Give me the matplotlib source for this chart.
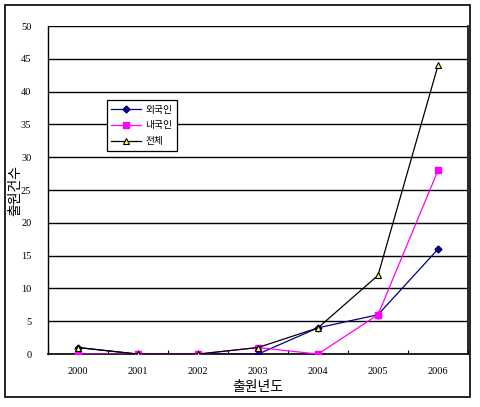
import matplotlib
matplotlib.use("Agg")
import matplotlib.pyplot as plt
import matplotlib.patches as mpatches
import numpy as np

# 데이터
years = ["2000", "2001", "2002", "2003", "2004", "2005", "2006"]
foreign = [1, 0, 0, 0, 4, 6, 16]     # 외국인
domestic = [0, 0, 0, 1, 0, 6, 28]    # 내국인
total = [1, 0, 0, 1, 4, 12, 44]      # 전체
y_ticks = [0, 5, 10, 15, 20, 25, 30, 35, 40, 45, 50]

KR = ["Noto Sans CJK KR", "DejaVu Sans"]
NUM = "Liberation Serif"

fig = plt.figure(figsize=(4.8, 4.07), dpi=100)
ax = fig.add_axes([0.1, 0.130, 0.875, 0.806])

# 바깥 테두리
fig.patches.append(mpatches.Rectangle((0.011, 0.025), 0.968, 0.962, transform=fig.transFigure,
                                      fill=False, edgecolor="black", linewidth=1.2))

x = np.arange(len(years))
ax.plot(x, foreign, "-", color="#000080", marker="D", markersize=3.5,
        markerfacecolor="#000080", markeredgecolor="#000080", linewidth=0.9, label="외국인", zorder=3)
ax.plot(x, domestic, "-", color="#FF00FF", marker="s", markersize=4.5,
        markerfacecolor="#FF00FF", markeredgecolor="#FF00FF", linewidth=0.9, label="내국인", zorder=3)
ax.plot(x, total, "-", color="black", marker="^", markersize=5,
        markerfacecolor="#FFFF66", markeredgecolor="black", markeredgewidth=0.8,
        linewidth=0.9, label="전체", zorder=3)

ax.set_xlim(-0.5, len(years) - 0.5)
ax.set_ylim(0, 50)
ax.set_yticks(y_ticks)
ax.set_yticklabels([str(v) for v in y_ticks], family=NUM, fontsize=7.5)
ax.set_xticks(x)
ax.set_xticklabels(years, family=NUM, fontsize=7.5)
ax.set_xticks(np.arange(-0.5, len(years), 1), minor=True)
ax.tick_params(axis="x", which="major", length=0, pad=9)
ax.tick_params(axis="x", which="minor", length=3, direction="in", width=0.8)
ax.tick_params(axis="y", length=0, pad=12)

ax.grid(axis="y", color="black", linewidth=1.0)
ax.set_axisbelow(True)
ax.spines["top"].set_visible(False)
ax.spines["left"].set_linewidth(1.0)
ax.spines["bottom"].set_linewidth(1.2)
ax.spines["right"].set_linewidth(1.2)

ax.set_xlabel("출원년도", family=KR, fontsize=10, labelpad=3)
ax.set_ylabel("출원건수", family=KR, fontsize=10)
ax.yaxis.set_label_coords(-0.062, 0.5)

leg = ax.legend(loc="upper left", bbox_to_anchor=(0.128, 0.79), prop={"family": KR, "size": 7},
                frameon=True, fancybox=False, edgecolor="black", framealpha=1,
                handlelength=3, borderpad=0.5, labelspacing=0.6, handletextpad=0.5)
leg.get_frame().set_linewidth(0.9)

fig.savefig("out.png", dpi=100)
